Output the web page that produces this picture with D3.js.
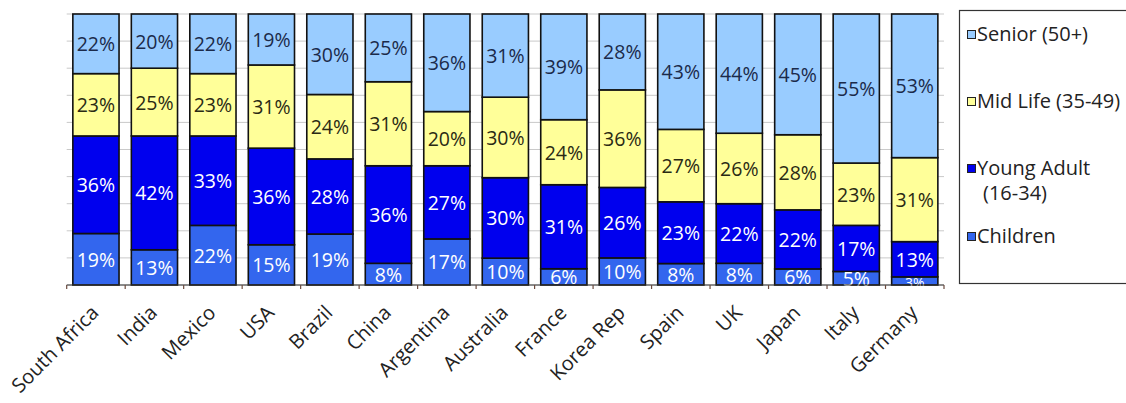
<!DOCTYPE html>
<html>
<head>
<meta charset="utf-8">
<script src="https://cdn.jsdelivr.net/npm/d3@7"></script>
<style>
  html, body { margin: 0; padding: 0; background: #ffffff; }
  svg { display: block; font-family: "Open Sans", "DejaVu Sans", sans-serif; }
</style>
</head>
<body>
<svg id="chart" width="1126" height="403"></svg>
<script>
// Countries along the x axis
const countries = ["South Africa", "India", "Mexico", "USA", "Brazil", "China", "Argentina",
  "Australia", "France", "Korea Rep", "Spain", "UK", "Japan", "Italy", "Germany"];

// Share of each age group, in percent (stacked bottom to top)
const children   = [19, 13, 22, 15, 19,  8, 17, 10,  6, 10,  8,  8,  6,  5,  3];
const youngAdult = [36, 42, 33, 36, 28, 36, 27, 30, 31, 26, 23, 22, 22, 17, 13];
const midLife    = [23, 25, 23, 31, 24, 31, 20, 30, 24, 36, 27, 26, 28, 23, 31];
const senior     = [22, 20, 22, 19, 30, 25, 36, 31, 39, 28, 43, 44, 45, 55, 53];

// Series keys (stack order) and their legend labels
const seriesKeys   = ["children", "youngAdult", "midLife", "senior"];
const seriesLabels = { senior: ["Senior (50+)"], midLife: ["Mid Life (35-49)"],
                       youngAdult: ["Young Adult", "(16-34)"], children: ["Children"] };
const legendOrder  = ["senior", "midLife", "youngAdult", "children"];
const gridTicks    = [0, 0.1, 0.2, 0.3, 0.4, 0.5, 0.6, 0.7, 0.8, 0.9, 1];

const fills = { senior: "#99ccff", midLife: "#ffff99", youngAdult: "#0000ee", children: "#3366ee" };
const labelColors = { senior: "#1b2a4a", midLife: "#2a2a14", youngAdult: "#ffffff", children: "#ffffff" };

const rows = countries.map((c, i) => ({
  country: c, children: children[i], youngAdult: youngAdult[i], midLife: midLife[i], senior: senior[i]
}));

const svg = d3.select("#chart");
const plot = { left: 66.7, right: 944, top: 14, bottom: 285 };

const x = d3.scaleBand().domain(countries)
  .range([plot.left, plot.right]).paddingInner(0.21).paddingOuter(0.105);
const y = d3.scaleLinear().domain([0, 1]).range([plot.bottom, plot.top]);

// 100% stacked layout
const stacked = d3.stack().keys(seriesKeys).offset(d3.stackOffsetExpand)(rows);

// Horizontal gridlines
svg.append("g").selectAll("line").data(gridTicks).join("line")
  .attr("x1", plot.left).attr("x2", plot.right)
  .attr("y1", d => y(d)).attr("y2", d => y(d))
  .attr("stroke", "#c9c9c9").attr("stroke-width", 1);

// Stacked bars
const layers = svg.append("g").selectAll("g").data(stacked).join("g")
  .attr("fill", d => fills[d.key]);

layers.selectAll("rect").data(d => d).join("rect")
  .attr("x", d => x(d.data.country))
  .attr("width", x.bandwidth())
  .attr("y", d => y(d[1]))
  .attr("height", d => y(d[0]) - y(d[1]))
  .attr("stroke", "#111111").attr("stroke-width", 1.6);

// Value labels centred in each segment (very thin segments get a smaller label)
const labelLayers = svg.append("g").selectAll("g").data(stacked).join("g")
  .attr("fill", d => labelColors[d.key]);

labelLayers.selectAll("text").data(d => d.map(s => ({ s, key: d.key }))).join("text")
  .attr("x", d => x(d.s.data.country) + x.bandwidth() / 2)
  .attr("y", d => (y(d.s[0]) + y(d.s[1])) / 2 + (d.s.data[d.key] < 5 ? 2 : 0))
  .attr("text-anchor", "middle")
  .attr("dominant-baseline", "central")
  .attr("font-size", d => (d.s.data[d.key] < 5 ? 14 : 19.5))
  .text(d => d.s.data[d.key] + "%");

// X axis with ticks between categories
const step = x.step();
const boundaries = countries.map(c => x(c) - step * x.paddingInner() / 2)
  .concat([x(countries[countries.length - 1]) + x.bandwidth() + step * x.paddingInner() / 2]);

const axis = svg.append("g");
axis.append("line")
  .attr("x1", plot.left).attr("x2", plot.right)
  .attr("y1", plot.bottom).attr("y2", plot.bottom)
  .attr("stroke", "#333333").attr("stroke-width", 1.2);
axis.selectAll("line.tick").data(boundaries).join("line").attr("class", "tick")
  .attr("x1", d => d).attr("x2", d => d)
  .attr("y1", plot.bottom).attr("y2", plot.bottom + 4)
  .attr("stroke", "#6b4a3e").attr("stroke-width", 1.2);

axis.selectAll("text").data(countries).join("text")
  .attr("transform", d => `translate(${x(d) + x.bandwidth() / 2 + 4},${314}) rotate(-45)`)
  .attr("text-anchor", "end")
  .attr("font-size", 20)
  .attr("fill", "#222222")
  .text(d => d);

// Legend
const legend = svg.append("g");
legend.append("rect")
  .attr("x", 959.5).attr("y", 10.5).attr("width", 200).attr("height", 273)
  .attr("fill", "#ffffff").attr("stroke", "#333333").attr("stroke-width", 1.2);

const legendY = { senior: 41, midLife: 108, youngAdult: 175, children: 243 };
const items = legend.selectAll("g.item").data(legendOrder).join("g").attr("class", "item");
items.append("rect")
  .attr("x", 967.5).attr("y", d => legendY[d] - 10.5)
  .attr("width", 8).attr("height", 8)
  .attr("fill", d => fills[d]).attr("stroke", "#222222").attr("stroke-width", 1);
items.append("text")
  .attr("x", 977).attr("y", d => legendY[d])
  .attr("font-size", 20).attr("fill", "#222222")
  .selectAll("tspan").data(d => seriesLabels[d]).join("tspan")
  .attr("x", (d, i) => i === 0 ? 977 : 983)
  .attr("dy", (d, i) => i === 0 ? 0 : 25)
  .text(d => d);
</script>
</body>
</html>
